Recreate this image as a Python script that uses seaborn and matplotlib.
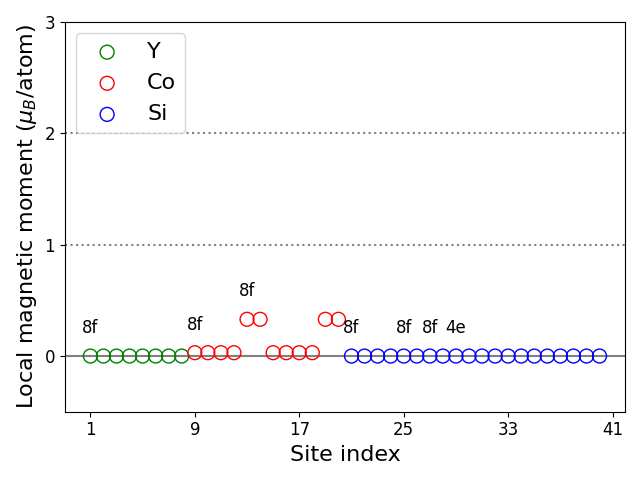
import matplotlib
matplotlib.use("Agg")
import matplotlib.pyplot as plt
import seaborn as sns
import pandas as pd

# Data
y_sites = [1, 2, 3, 4, 5, 6, 7, 8]
y_moments = [0.0] * 8
co_sites = [9, 10, 11, 12, 13, 14, 15, 16, 17, 18, 19, 20]
co_moments = [0.03, 0.03, 0.03, 0.03, 0.33, 0.33, 0.03, 0.03, 0.03, 0.03, 0.33, 0.33]
si_sites = list(range(21, 41))
si_moments = [0.0] * 20
label_sites = [1, 9, 13, 21, 25, 27, 29]
label_texts = ["8f", "8f", "8f", "8f", "8f", "8f", "4e"]
elements = ["Y", "Co", "Si"]
colors = ["green", "red", "blue"]
xticks = [1, 9, 17, 25, 33, 41]
yticks = [0, 1, 2, 3]

all_sites = y_sites + co_sites + si_sites
all_moments = y_moments + co_moments + si_moments
lookup = dict(zip(all_sites, all_moments))

fig, ax = plt.subplots(figsize=(6.4, 4.8), dpi=100)

ax.axhline(0, color="gray", lw=1.5, zorder=1)
ax.axhline(1, color="gray", lw=1.5, ls=":", zorder=1)
ax.axhline(2, color="gray", lw=1.5, ls=":", zorder=1)

for el, col, xs, ys in zip(elements, colors,
                           [y_sites, co_sites, si_sites],
                           [y_moments, co_moments, si_moments]):
    df = pd.DataFrame({"site": xs, "m": ys})
    n0 = len(ax.collections)
    sns.scatterplot(data=df, x="site", y="m", ax=ax, s=100, color=col,
                    label=el, zorder=3, linewidth=1)
    coll = ax.collections[n0]
    coll.set_facecolor("none")
    coll.set_edgecolor(col)

for s, t in zip(label_sites, label_texts):
    ax.text(s, lookup[s] + 0.25, t, ha="center", va="center", fontsize=12)

ax.set_ylim(-0.5, 3)
ax.set_xticks(xticks)
ax.set_yticks(yticks)
ax.tick_params(labelsize=12)
ax.set_xlabel("Site index", fontsize=16)
ax.set_ylabel(r"Local magnetic moment ($\mu_B$/atom)", fontsize=16)
ax.legend(loc="upper left", fontsize=16)

fig.tight_layout()
fig.savefig("out.png", dpi=100)
